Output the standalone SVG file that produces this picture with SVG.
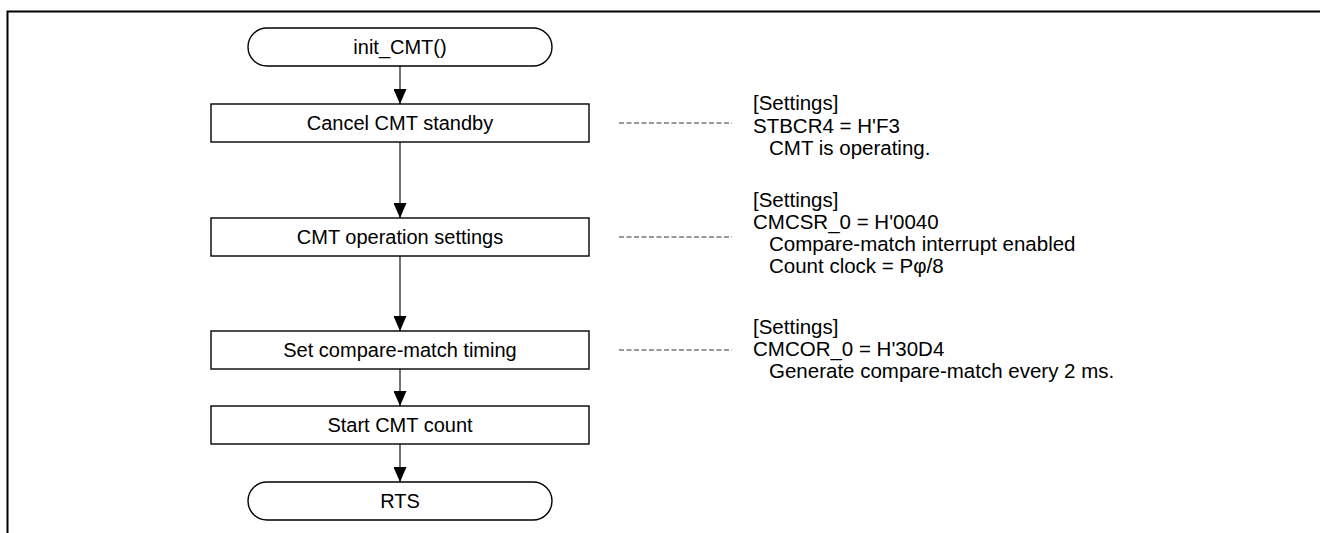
<svg xmlns="http://www.w3.org/2000/svg" width="1320" height="533" viewBox="0 0 1320 533">
<defs>
<marker id="ah" viewBox="0 0 15 13" refX="15" refY="6.5" markerWidth="15" markerHeight="13" markerUnits="userSpaceOnUse" orient="auto">
<path d="M0,0 L15,6.5 L0,13 Z" fill="#000"/>
</marker>
<style>
.box{fill:#fff;stroke:#000;stroke-width:1.4}
.t{font-family:"Liberation Sans",Arial,sans-serif;font-size:20px;fill:#000}
.n{font-family:"Liberation Sans",Arial,sans-serif;font-size:20.5px;fill:#000}
.c{text-anchor:middle}
.ln{stroke:#000;stroke-width:1.1;fill:none}
.dash{stroke:#333;stroke-width:1;stroke-dasharray:5 2.5;fill:none}
</style>
</defs>
<rect width="1320" height="533" fill="#fff"/>
<path d="M7.5,533 V11.5 H1320" fill="none" stroke="#000" stroke-width="2"/>
<g id="connectors">
<line class="ln" x1="400" y1="66" x2="400" y2="104" marker-end="url(#ah)"/>
<line class="ln" x1="400" y1="142" x2="400" y2="218" marker-end="url(#ah)"/>
<line class="ln" x1="400" y1="256" x2="400" y2="331" marker-end="url(#ah)"/>
<line class="ln" x1="400" y1="369" x2="400" y2="406" marker-end="url(#ah)"/>
<line class="ln" x1="400" y1="444" x2="400" y2="482" marker-end="url(#ah)"/>
<line class="dash" x1="619" y1="123" x2="732" y2="123"/>
<line class="dash" x1="619" y1="237" x2="732" y2="237"/>
<line class="dash" x1="619" y1="350" x2="732" y2="350"/>
</g>
<g id="start">
<rect class="box" x="248" y="28" width="304" height="38" rx="19"/>
<text class="t c" x="400" y="54">init_CMT()</text>
</g>
<g id="step1">
<rect class="box" x="211" y="104" width="378" height="38"/>
<text class="t c" x="400" y="130">Cancel CMT standby</text>
</g>
<g id="step2">
<rect class="box" x="211" y="218" width="378" height="38"/>
<text class="t c" x="400" y="244">CMT operation settings</text>
</g>
<g id="step3">
<rect class="box" x="211" y="331" width="378" height="38"/>
<text class="t c" x="400" y="357">Set compare-match timing</text>
</g>
<g id="step4">
<rect class="box" x="211" y="406" width="378" height="38"/>
<text class="t c" x="400" y="432">Start CMT count</text>
</g>
<g id="end">
<rect class="box" x="248" y="482" width="304" height="38" rx="19"/>
<text class="t c" x="400" y="508">RTS</text>
</g>
<g id="note1">
<text class="n" x="753" y="110">[Settings]</text>
<text class="n" x="753" y="132.5">STBCR4 = H'F3</text>
<text class="n" x="769" y="155">CMT is operating.</text>
</g>
<g id="note2">
<text class="n" x="753" y="207">[Settings]</text>
<text class="n" x="753" y="229">CMCSR_0 = H'0040</text>
<text class="n" x="769" y="251">Compare-match interrupt enabled</text>
<text class="n" x="769" y="273">Count clock = Pφ/8</text>
</g>
<g id="note3">
<text class="n" x="753" y="334">[Settings]</text>
<text class="n" x="753" y="356">CMCOR_0 = H'30D4</text>
<text class="n" x="769" y="378">Generate compare-match every 2 ms.</text>
</g>
</svg>
